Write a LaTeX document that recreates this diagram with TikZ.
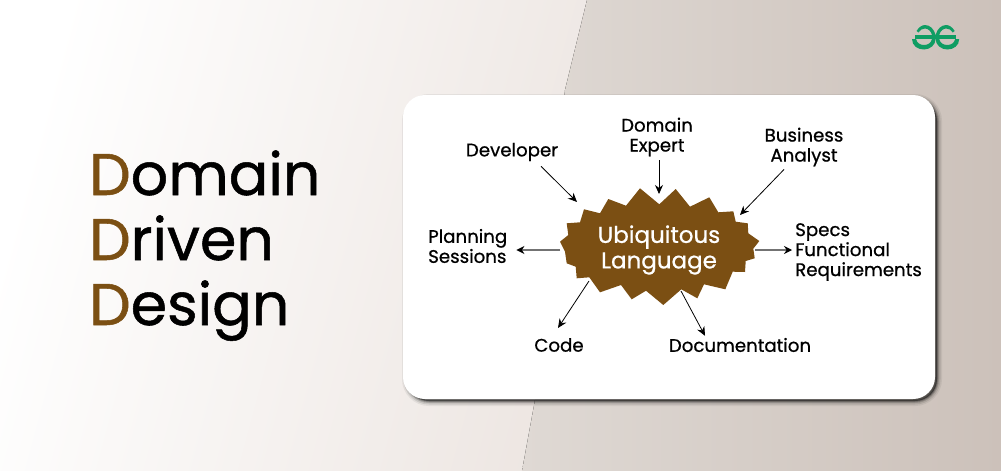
\documentclass[tikz,border=0pt]{standalone}
\usepackage{fontspec}
\setmainfont{Poppins}[FakeBold=0.7]
\newfontfamily\titlefont{Poppins}[FakeBold=0.9]
\usetikzlibrary{arrows.meta,calc}
\definecolor{dddbrown}{HTML}{7B4F13}
\definecolor{gfggreen}{HTML}{0F9D63}
\definecolor{bgmid}{HTML}{EDE6E2}
\definecolor{bgstart}{HTML}{DFD9D4}
\definecolor{bgright}{HTML}{CCC1BA}
\newcommand{\gfghalf}{%
	\fill[gfggreen] (912,39) .. controls (912,46) and (918,49.5) .. (924,49.5) .. controls (930,49.5) and (935.6,45) .. (935.6,39) -- (932,39) .. controls (931,43) and (928,45) .. (924,45) .. controls (920,45) and (917,43) .. (916,39) -- cycle;
	\fill[gfggreen] (915,35) rectangle (935.6,39);
	\fill[gfggreen] (916.5,31) .. controls (919,27) and (922,25) .. (925,25) .. controls (930,25) and (934,29) .. (935.6,35) -- (932,35) .. controls (931,31) and (928,28.5) .. (925,28.5) .. controls (922,28.5) and (920,30) .. (918.5,32.5) -- cycle;
}
\tikzset{
	lbl/.style={font=\fontsize{18.2}{20}\selectfont, align=center, inner sep=0pt, text=black},
	lblleft/.style={lbl, align=left},
	ttl/.style={font=\titlefont\fontsize{58.7}{58.7}\selectfont, anchor=base west, inner sep=0pt, text=black},
	pfeil/.style={-{Stealth[length=9pt,width=8pt]}, line width=0.8pt, black},
	pfeilgrau/.style={-{Stealth[length=8pt,width=8pt,black]}, line width=1.2pt, black!55},
}
\begin{document}
\begin{tikzpicture}[x=1pt,y=-1pt,line join=miter]
	\useasboundingbox (0,0) rectangle (1001,471);
	% Hintergrund
	\shade[left color=white, right color=bgmid, shading angle=75] (0,0) rectangle (600,471);
	\fill[left color=bgstart, right color=bgright] (587,0) -- (1001,0) -- (1001,471) -- (522,471) -- (535,400) -- (565,90) -- cycle;
	% Schatten
	\foreach \w/\o in {10/0.06,7/0.1,4/0.16,2/0.22}
		\draw[black, opacity=\o, line width=\w pt, fill=black, rounded corners=22pt] (407,99) rectangle (937,401);
	% Karte
	\fill[white, rounded corners=22pt] (403,95) rectangle (935,399);
	% Logo
	\gfghalf
	\begin{scope}[shift={(1871.2,0)},xscale=-1]
		\gfghalf
	\end{scope}
	% Stern
	\fill[dddbrown] plot coordinates {(640,188.3) (659.3,204.3) (675.7,189) (690,206.7) (709.3,197.3) (718.3,212.3) (733.3,211.3) (735.7,221.7) (747.7,223.3) (748.3,233.3) (759.3,241) (753.3,248.7) (754.7,258.3) (745.7,261) (745,272) (732.7,271.7) (725.3,289.3) (704,284.3) (697.3,298.3) (681.3,289.3) (663.3,305) (646,290.7) (631.7,299.3) (621,285) (600,292.3) (589.3,277.3) (576.7,278.3) (575.7,266.7) (566.7,263.3) (565,251.7) (560,241.7) (568.3,235) (566.7,223.3) (580,222.3) (584,209.3) (600,213.3) (608.3,199) (626,205.7)} -- cycle;
	\node[font=\fontsize{23}{25.5}\selectfont, align=center, text=white, inner sep=0pt] (ubi) at (659,250) {Ubiquitous\\Language};
	% Titel
	\node[ttl] (dom) at (89,195) {\textcolor{dddbrown}{D}omain};
	\node[ttl] (dri) at (89,260) {\textcolor{dddbrown}{D}riven};
	\node[ttl] (des) at (89,325) {\textcolor{dddbrown}{D}esign};
	% Beschriftungen
	\node[lbl] (dev) at (512,152) {Developer};
	\node[lbl] (exp) at (657,137) {Domain\\Expert};
	\node[lbl] (ana) at (804,147) {Business\\Analyst};
	\node[lblleft, anchor=west] (pla) at (428,246) {Planning\\Sessions};
	\node[lblleft, anchor=west] (spe) at (795,252) {Specs\\Functional\\Requirements};
	\node[lbl] (cod) at (559,345) {Code};
	\node[lbl] (doc) at (740,345) {Documentation};
	% Pfeilenden
	\coordinate (devend) at (577,202);
	\coordinate (expend) at (659,194);
	\coordinate (anaend) at (740,215);
	\coordinate (plaend) at (560,250);
	\coordinate (speend) at (755,250);
	\coordinate (codend) at (589,281);
	\coordinate (docend) at (681,291);
	% Pfeile
	\draw[pfeil] ($(dev.south)+(29,5)$) -- (devend);
	\draw[pfeil] ($(exp.south)+(2,4)$) -- (expend);
	\draw[pfeil] ($(ana.south)+(-20,3)$) -- (anaend);
	\draw[pfeilgrau, shorten >=9pt] (plaend) -- (pla.east |- plaend);
	\draw[pfeilgrau, shorten >=3pt] (speend) -- (spe.west |- speend);
	\draw[pfeil] (codend) -- ($(cod.north)+(-1,-10)$);
	\draw[pfeil] (docend) -- ($(doc.north)+(-35,-2)$);
\end{tikzpicture}
\end{document}
